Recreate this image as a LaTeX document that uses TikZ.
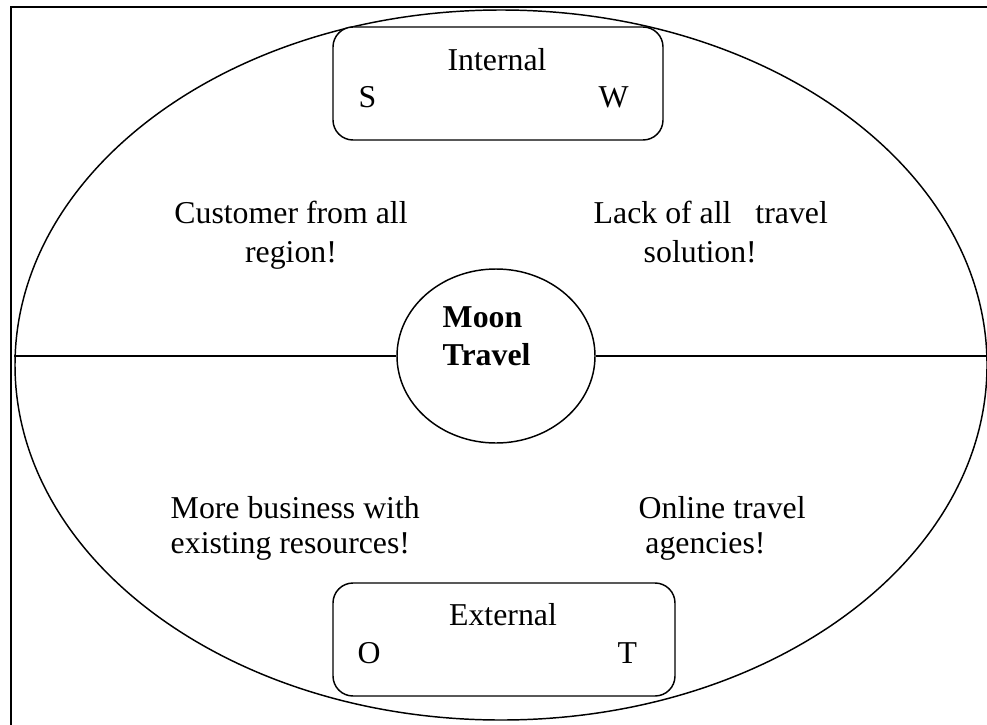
\documentclass[tikz,border=0pt]{standalone}
\usepackage{fontspec}
\setmainfont{Liberation Serif}
\usetikzlibrary{shapes.geometric}
\tikzset{every picture/.style={line width=1.1pt}}

\begin{document}
\begin{tikzpicture}[x=0.75pt,y=0.75pt,yscale=-1,xscale=1,
    txt/.style={inner sep=0pt,font=\fontsize{23.85pt}{29.25pt}\selectfont},
    hubtxt/.style={inner sep=0pt,font=\fontsize{23.85pt}{28.5pt}\selectfont\bfseries},
    sbox/.style={draw,fill=white,rounded corners=15pt,minimum width=247.5pt,minimum height=84.75pt,inner sep=0pt}]
        \useasboundingbox (0,0) rectangle (987,724);
        \clip (0,0) rectangle (987,724);

        %Shape: Rectangle [id:frame]
        \draw [line width=1.5pt] (11,7) rectangle (1000,740);
        %Shape: Ellipse [id:swot]
        \node [draw, ellipse, minimum width=729pt, minimum height=532.5pt, inner sep=0pt] (swot) at (501,365) {};
        %Shape: Ellipse [id:hub]
        \node [draw, ellipse, minimum width=148.5pt, minimum height=130.5pt, inner sep=0pt] (hub) at (496,356) {};
        %Straight Lines [id:left]
        \draw (hub.west) -- (hub.west -| swot.west);
        %Straight Lines [id:right]
        \draw (hub.east) -- (hub.east -| swot.east);
        %Shape: Rounded Rect [id:inbox]
        \node [sbox] (inbox) at (498,83.5) {};
        %Shape: Rounded Rect [id:exbox]
        \node [sbox, minimum width=256.5pt] (exbox) at (504,639.5) {};

        % base anchor sits on the last line
        \node [hubtxt, align=left, anchor=base west] (hubname) at (442,365) {Moon\\Travel};
        \node [txt, anchor=base] (inlabel) at (497,70) {Internal};
        \node [txt, anchor=base west] (s) at (358,107) {S};
        \node [txt, anchor=base west] (w) at (598,107) {W};
        \node [txt, anchor=base] (exlabel) at (503,625) {External};
        \node [txt, anchor=base west] (o) at (357,663) {O};
        \node [txt, anchor=base west] (t) at (617,663) {T};
        \node [txt, align=center, anchor=base] (strength) at (291,262) {Customer from all\\region!};
        \node [txt, align=left, anchor=base west] (weakness) at (593,262) {Lack of all\hspace{18pt}travel\\\hspace*{37.5pt}solution!};
        \node [txt, align=left, anchor=base west] (opportunity) at (170,553) {More business with\\[-3pt]existing resources!};
        \node [txt, align=left, anchor=base west] (threat) at (638,553) {Online travel\\[-3pt]\hspace*{5pt}agencies!};

    \end{tikzpicture}
\end{document}
